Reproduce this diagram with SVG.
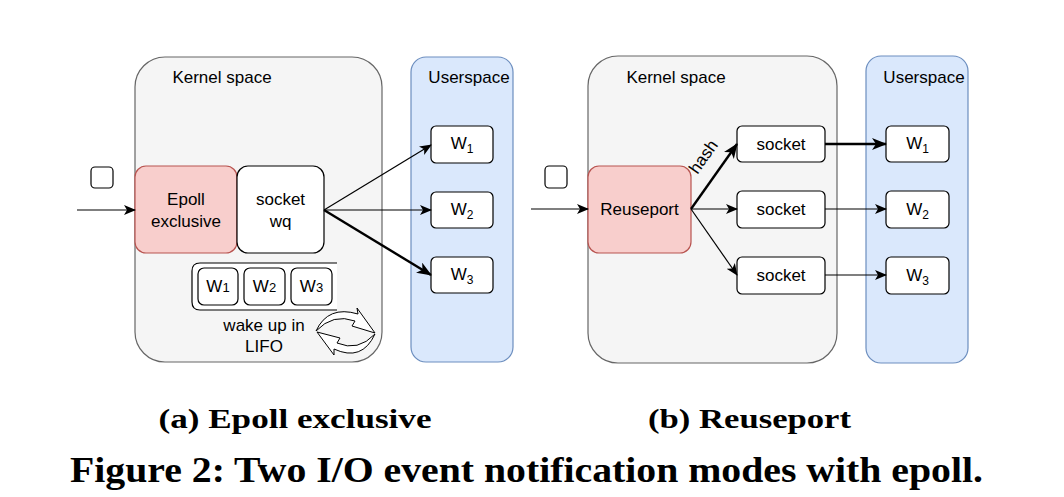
<svg xmlns="http://www.w3.org/2000/svg" width="1064" height="497" viewBox="0 0 1064 497">
<defs>
<style>
text{font-family:"Liberation Sans",Arial,sans-serif;font-size:17px;fill:#000}
.c{text-anchor:middle}
.s16{font-size:16px}
.kern{fill:#f5f5f5;stroke:#666;stroke-width:1.2}
.user{fill:#dae8fc;stroke:#6c8ebf;stroke-width:1.2}
.red{fill:#f8cecc;stroke:#b85450;stroke-width:1.2}
.box{fill:#fff;stroke:#000;stroke-width:1.2}
.thin{stroke:#000;stroke-width:1.2;fill:none}
.thick{stroke:#000;stroke-width:2.4;fill:none}
.cap{font-family:"Liberation Serif","Times New Roman",serif;font-weight:bold;text-anchor:middle}
.sub{font-size:28px}
.fig{font-size:36px}
</style>
<marker id="a1" markerUnits="userSpaceOnUse" markerWidth="12" markerHeight="10" viewBox="0 0 12 10" refX="11" refY="5" orient="auto">
<path d="M0,0 L12,5 L0,10 L3,5 Z" fill="#000"/>
</marker>
<marker id="a2" markerUnits="userSpaceOnUse" markerWidth="15" markerHeight="12" viewBox="0 0 15 12" refX="14" refY="6" orient="auto">
<path d="M0,0 L15,6 L0,12 L4,6 Z" fill="#000"/>
</marker>
</defs>

<g id="panel-a">
<g id="kernel-a"><rect class="kern" x="135" y="57" width="247" height="305" rx="30"/><text class="c" x="222" y="83">Kernel space</text></g>
<g id="user-a"><rect class="user" x="411" y="57" width="102" height="305" rx="15"/><text class="c" x="469" y="83">Userspace</text></g>
<g id="packet-a"><rect class="box" x="91" y="167" width="22" height="21" rx="4"/></g>
<g id="epoll"><rect class="red" x="135" y="166" width="102" height="87" rx="11"/><text class="c" x="186" y="205">Epoll</text><text class="c" x="186" y="227">exclusive</text></g>
<g id="socketwq"><rect class="box" x="237" y="166" width="87" height="87" rx="11"/><text class="c" x="280.5" y="205">socket</text><text class="c" x="280.5" y="227">wq</text></g>
<g id="wa1"><rect class="box" x="431" y="126" width="62" height="37" rx="5"/><text class="c" x="462" y="149">W<tspan font-size="12" dy="4">1</tspan></text></g>
<g id="wa2"><rect class="box" x="431" y="192" width="62" height="36" rx="5"/><text class="c" x="462" y="215">W<tspan font-size="12" dy="4">2</tspan></text></g>
<g id="wa3"><rect class="box" x="431" y="257" width="62" height="36" rx="5"/><text class="c" x="462" y="280">W<tspan font-size="12" dy="4">3</tspan></text></g>
<g id="queue"><path d="M337,263 L200,263 Q192,263 192,271 L192,302 Q192,310 200,310 L337,310" fill="#fff" stroke="#000" stroke-width="1.2"/>
<rect class="box" x="198" y="268" width="40" height="37" rx="6"/><text x="218" y="292" class="c">W<tspan font-size="13">1</tspan></text>
<rect class="box" x="244" y="268" width="41" height="37" rx="6"/><text x="264.5" y="292" class="c">W<tspan font-size="13">2</tspan></text>
<rect class="box" x="291" y="268" width="41" height="37" rx="6"/><text x="311.5" y="292" class="c">W<tspan font-size="13">3</tspan></text>
</g>
<g id="lifo"><text class="c" x="264" y="331">wake up in</text><text class="c" x="264" y="352">LIFO</text>
<path d="M316,331 Q328,305 358,314 L357,308 L375,333 L352,326 L355,321 Q333,313 316,331 Z" fill="#fff" stroke="#000" stroke-width="1"/>
<path d="M375,334 Q362,362 334,349 L334,355 L317,332 L340,338 L337,343 Q358,352 375,334 Z" fill="#fff" stroke="#000" stroke-width="1"/>
</g>
</g>

<g id="panel-b">
<g id="kernel-b"><rect class="kern" x="588" y="56" width="249" height="307" rx="30"/><text class="c" x="676" y="83">Kernel space</text></g>
<g id="user-b"><rect class="user" x="866" y="56" width="102" height="307" rx="15"/><text class="c" x="924" y="83">Userspace</text></g>
<g id="packet-b"><rect class="box" x="545" y="166" width="22" height="22" rx="4"/></g>
<g id="reuseport"><rect class="red" x="588" y="166" width="103" height="87" rx="11"/><text class="c" x="639.5" y="215">Reuseport</text></g>
<g id="s1"><rect class="box" x="737" y="126" width="88" height="36" rx="5"/><text class="c" x="781" y="150">socket</text></g>
<g id="s2"><rect class="box" x="737" y="191" width="88" height="37" rx="5"/><text class="c" x="781" y="215">socket</text></g>
<g id="s3"><rect class="box" x="737" y="257" width="88" height="37" rx="5"/><text class="c" x="781" y="281">socket</text></g>
<g id="wb1"><rect class="box" x="886" y="126" width="63" height="36" rx="5"/><text class="c" x="917.5" y="149">W<tspan font-size="12" dy="4">1</tspan></text></g>
<g id="wb2"><rect class="box" x="886" y="191" width="63" height="37" rx="5"/><text class="c" x="917.5" y="215">W<tspan font-size="12" dy="4">2</tspan></text></g>
<g id="wb3"><rect class="box" x="886" y="257" width="63" height="37" rx="5"/><text class="c" x="917.5" y="281">W<tspan font-size="12" dy="4">3</tspan></text></g>
</g>

<g id="connectors">
<line class="thin" x1="77" y1="210" x2="135" y2="210" marker-end="url(#a1)"/>
<line class="thin" x1="324" y1="210" x2="431" y2="145" marker-end="url(#a1)"/>
<line class="thin" x1="324" y1="210" x2="431" y2="210" marker-end="url(#a1)"/>
<line class="thick" x1="324" y1="210" x2="431" y2="275" marker-end="url(#a2)"/>
<line class="thin" x1="531" y1="209" x2="588" y2="209" marker-end="url(#a1)"/>
<line class="thick" x1="691" y1="209" x2="737" y2="144" marker-end="url(#a2)"/>
<line class="thin" x1="691" y1="209" x2="737" y2="209" marker-end="url(#a1)"/>
<line class="thin" x1="691" y1="209" x2="737" y2="275" marker-end="url(#a1)"/>
<line class="thick" x1="825" y1="144" x2="886" y2="144" marker-end="url(#a2)"/>
<line class="thin" x1="825" y1="209" x2="886" y2="209" marker-end="url(#a1)"/>
<line class="thin" x1="825" y1="275" x2="886" y2="275" marker-end="url(#a1)"/>
<text class="c" x="0" y="0" transform="translate(708,160) rotate(-55)">hash</text>
</g>

<text class="cap sub" x="295" y="428" textLength="273" lengthAdjust="spacingAndGlyphs">(a) Epoll exclusive</text>
<text class="cap sub" x="749.5" y="428" textLength="203" lengthAdjust="spacingAndGlyphs">(b) Reuseport</text>
<text class="cap fig" x="526.5" y="482" textLength="913" lengthAdjust="spacingAndGlyphs">Figure 2: Two I/O event notification modes with epoll.</text>
</svg>
